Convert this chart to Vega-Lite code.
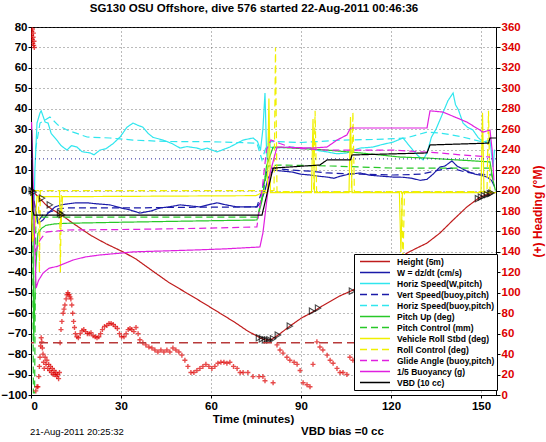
{
"$schema":"https://vega.github.io/schema/vega-lite/v6.json",
"width":465,"height":368,
"autosize":{"type":"none"},
"padding":{"left":31,"top":27,"right":50,"bottom":47},
"title":{"text":"SG130 OSU Offshore, dive 576 started 22-Aug-2011 00:46:36","fontSize":11.5,"fontWeight":"bold","font":"Liberation Sans","anchor":"middle","frame":"group","offset":7,"dx":-9.5,"color":"#000"},
"config":{
 "font":"Liberation Sans",
 "view":{"stroke":"#000","strokeWidth":1},
 "axis":{"labelFont":"Liberation Sans","labelFontWeight":"bold","labelFontSize":11.5,"labelColor":"#000","labelOverlap":false,"domainColor":"#000","tickColor":"#000","gridColor":"#555","gridDash":[1,3],"gridOpacity":0.8,"titleFont":"Liberation Sans","titleFontWeight":"bold","titleFontSize":11.5,"titleColor":"#000"}
},
"datasets":{
"series":[
{"s":"Height (5m)","t":0,"v":0},{"s":"Height (5m)","t":1,"v":-1},{"s":"Height (5m)","t":3,"v":-4},{"s":"Height (5m)","t":5,"v":-7},{"s":"Height (5m)","t":7,"v":-9.2},{"s":"Height (5m)","t":9,"v":-11},{"s":"Height (5m)","t":10.3,"v":-12},{"s":"Height (5m)","t":13,"v":-15},{"s":"Height (5m)","t":16,"v":-18},{"s":"Height (5m)","t":20,"v":-22},{"s":"Height (5m)","t":25,"v":-26},{"s":"Height (5m)","t":30.7,"v":-30},{"s":"Height (5m)","t":35,"v":-33.5},{"s":"Height (5m)","t":40.7,"v":-39.5},{"s":"Height (5m)","t":46,"v":-45},{"s":"Height (5m)","t":52,"v":-50.2},{"s":"Height (5m)","t":57,"v":-54.6},{"s":"Height (5m)","t":63,"v":-60},{"s":"Height (5m)","t":68,"v":-64.5},{"s":"Height (5m)","t":72,"v":-68.5},{"s":"Height (5m)","t":76.3,"v":-72},{"s":"Height (5m)","t":78,"v":-73},{"s":"Height (5m)","t":80,"v":-73},{"s":"Height (5m)","t":81,"v":-72},{"s":"Height (5m)","t":83,"v":-70},{"s":"Height (5m)","t":86.3,"v":-66.3},{"s":"Height (5m)","t":90,"v":-62.5},{"s":"Height (5m)","t":94,"v":-59.3},{"s":"Height (5m)","t":97,"v":-56.5},{"s":"Height (5m)","t":100,"v":-54},{"s":"Height (5m)","t":103,"v":-51.5},{"s":"Height (5m)","t":107.3,"v":-48.7},{"s":"Height (5m)","t":112,"v":-44.5},{"s":"Height (5m)","t":117,"v":-40},{"s":"Height (5m)","t":121,"v":-35.5},{"s":"Height (5m)","t":125.3,"v":-30.6},{"s":"Height (5m)","t":128.5,"v":-28.2},{"s":"Height (5m)","t":132,"v":-25.7},{"s":"Height (5m)","t":136.3,"v":-20.8},{"s":"Height (5m)","t":140.7,"v":-14.4},{"s":"Height (5m)","t":145.3,"v":-8},{"s":"Height (5m)","t":149.7,"v":-3.2},{"s":"Height (5m)","t":152,"v":-2},{"s":"Height (5m)","t":154,"v":-1},

{"s":"W = dz/dt (cm/s)","t":0.5,"v":-2},{"s":"W = dz/dt (cm/s)","t":1.5,"v":-10},{"s":"W = dz/dt (cm/s)","t":2.3,"v":-16},{"s":"W = dz/dt (cm/s)","t":4,"v":-14.4},{"s":"W = dz/dt (cm/s)","t":5.7,"v":-11},{"s":"W = dz/dt (cm/s)","t":8,"v":-8},{"s":"W = dz/dt (cm/s)","t":10,"v":-7},{"s":"W = dz/dt (cm/s)","t":12.3,"v":-6.5},{"s":"W = dz/dt (cm/s)","t":15,"v":-6},{"s":"W = dz/dt (cm/s)","t":18.7,"v":-6},{"s":"W = dz/dt (cm/s)","t":22,"v":-6.5},{"s":"W = dz/dt (cm/s)","t":26.3,"v":-7},{"s":"W = dz/dt (cm/s)","t":30,"v":-8.5},{"s":"W = dz/dt (cm/s)","t":33,"v":-9.5},{"s":"W = dz/dt (cm/s)","t":36.3,"v":-11},{"s":"W = dz/dt (cm/s)","t":40,"v":-10},{"s":"W = dz/dt (cm/s)","t":43,"v":-8.5},{"s":"W = dz/dt (cm/s)","t":46,"v":-8},{"s":"W = dz/dt (cm/s)","t":49.7,"v":-7},{"s":"W = dz/dt (cm/s)","t":53,"v":-7.5},{"s":"W = dz/dt (cm/s)","t":56.3,"v":-8},{"s":"W = dz/dt (cm/s)","t":59,"v":-7},{"s":"W = dz/dt (cm/s)","t":62,"v":-6},{"s":"W = dz/dt (cm/s)","t":65,"v":-7},{"s":"W = dz/dt (cm/s)","t":68.7,"v":-8},{"s":"W = dz/dt (cm/s)","t":72,"v":-8},{"s":"W = dz/dt (cm/s)","t":75.3,"v":-8},{"s":"W = dz/dt (cm/s)","t":76.5,"v":-6},{"s":"W = dz/dt (cm/s)","t":78,"v":0},{"s":"W = dz/dt (cm/s)","t":79,"v":6},{"s":"W = dz/dt (cm/s)","t":80.7,"v":10},{"s":"W = dz/dt (cm/s)","t":84,"v":9.5},{"s":"W = dz/dt (cm/s)","t":87.3,"v":9},{"s":"W = dz/dt (cm/s)","t":90,"v":8},{"s":"W = dz/dt (cm/s)","t":93,"v":7.6},{"s":"W = dz/dt (cm/s)","t":96,"v":7},{"s":"W = dz/dt (cm/s)","t":98.7,"v":6.6},{"s":"W = dz/dt (cm/s)","t":101,"v":6},{"s":"W = dz/dt (cm/s)","t":103,"v":7},{"s":"W = dz/dt (cm/s)","t":106,"v":8},{"s":"W = dz/dt (cm/s)","t":109.7,"v":8.6},{"s":"W = dz/dt (cm/s)","t":113,"v":7.5},{"s":"W = dz/dt (cm/s)","t":117,"v":7},{"s":"W = dz/dt (cm/s)","t":120.7,"v":6.6},{"s":"W = dz/dt (cm/s)","t":124,"v":6.5},{"s":"W = dz/dt (cm/s)","t":127,"v":6},{"s":"W = dz/dt (cm/s)","t":129.7,"v":5},{"s":"W = dz/dt (cm/s)","t":132,"v":5.5},{"s":"W = dz/dt (cm/s)","t":134,"v":8},{"s":"W = dz/dt (cm/s)","t":136.3,"v":11.5},{"s":"W = dz/dt (cm/s)","t":138,"v":12},{"s":"W = dz/dt (cm/s)","t":140.3,"v":14.5},{"s":"W = dz/dt (cm/s)","t":142,"v":12},{"s":"W = dz/dt (cm/s)","t":145.3,"v":9.5},{"s":"W = dz/dt (cm/s)","t":148,"v":8},{"s":"W = dz/dt (cm/s)","t":150,"v":7.5},{"s":"W = dz/dt (cm/s)","t":152,"v":6.6},{"s":"W = dz/dt (cm/s)","t":153.5,"v":5},{"s":"W = dz/dt (cm/s)","t":154.5,"v":2},

{"s":"Horiz Speed(W,pitch)","t":0.5,"v":0},{"s":"Horiz Speed(W,pitch)","t":1,"v":-12},{"s":"Horiz Speed(W,pitch)","t":1.3,"v":10},{"s":"Horiz Speed(W,pitch)","t":2,"v":33},{"s":"Horiz Speed(W,pitch)","t":3,"v":38},{"s":"Horiz Speed(W,pitch)","t":3.4,"v":39},{"s":"Horiz Speed(W,pitch)","t":4.7,"v":33.5},{"s":"Horiz Speed(W,pitch)","t":5.7,"v":33},{"s":"Horiz Speed(W,pitch)","t":6.7,"v":28},{"s":"Horiz Speed(W,pitch)","t":8.6,"v":24.7},{"s":"Horiz Speed(W,pitch)","t":10,"v":22},{"s":"Horiz Speed(W,pitch)","t":12,"v":19.8},{"s":"Horiz Speed(W,pitch)","t":13.5,"v":22},{"s":"Horiz Speed(W,pitch)","t":15.3,"v":21.3},{"s":"Horiz Speed(W,pitch)","t":17,"v":19},{"s":"Horiz Speed(W,pitch)","t":19.7,"v":18.4},{"s":"Horiz Speed(W,pitch)","t":21,"v":17.5},{"s":"Horiz Speed(W,pitch)","t":23,"v":19.8},{"s":"Horiz Speed(W,pitch)","t":25,"v":20.5},{"s":"Horiz Speed(W,pitch)","t":27.4,"v":23},{"s":"Horiz Speed(W,pitch)","t":29.7,"v":26.2},{"s":"Horiz Speed(W,pitch)","t":32,"v":31},{"s":"Horiz Speed(W,pitch)","t":34,"v":33},{"s":"Horiz Speed(W,pitch)","t":35.5,"v":32},{"s":"Horiz Speed(W,pitch)","t":37.3,"v":31},{"s":"Horiz Speed(W,pitch)","t":39,"v":28},{"s":"Horiz Speed(W,pitch)","t":40.7,"v":26},{"s":"Horiz Speed(W,pitch)","t":44,"v":24.7},{"s":"Horiz Speed(W,pitch)","t":47,"v":23},{"s":"Horiz Speed(W,pitch)","t":49.7,"v":20.8},{"s":"Horiz Speed(W,pitch)","t":52,"v":21.5},{"s":"Horiz Speed(W,pitch)","t":55.3,"v":20.8},{"s":"Horiz Speed(W,pitch)","t":57,"v":20},{"s":"Horiz Speed(W,pitch)","t":58.7,"v":20.8},{"s":"Horiz Speed(W,pitch)","t":60,"v":20},{"s":"Horiz Speed(W,pitch)","t":62,"v":18.9},{"s":"Horiz Speed(W,pitch)","t":64,"v":20},{"s":"Horiz Speed(W,pitch)","t":66.3,"v":21.3},{"s":"Horiz Speed(W,pitch)","t":68.5,"v":23},{"s":"Horiz Speed(W,pitch)","t":70.7,"v":24.7},{"s":"Horiz Speed(W,pitch)","t":74,"v":25.7},{"s":"Horiz Speed(W,pitch)","t":75.5,"v":24},{"s":"Horiz Speed(W,pitch)","t":76.5,"v":19.8},{"s":"Horiz Speed(W,pitch)","t":77.3,"v":30},{"s":"Horiz Speed(W,pitch)","t":78,"v":47.7},{"s":"Horiz Speed(W,pitch)","t":78.5,"v":20},{"s":"Horiz Speed(W,pitch)","t":78.8,"v":13.5},{"s":"Horiz Speed(W,pitch)","t":79.3,"v":30},{"s":"Horiz Speed(W,pitch)","t":79.7,"v":21.3},{"s":"Horiz Speed(W,pitch)","t":81,"v":20.8},{"s":"Horiz Speed(W,pitch)","t":84,"v":21},{"s":"Horiz Speed(W,pitch)","t":87.3,"v":21.3},{"s":"Horiz Speed(W,pitch)","t":90,"v":20.5},{"s":"Horiz Speed(W,pitch)","t":93,"v":20.8},{"s":"Horiz Speed(W,pitch)","t":96,"v":19.5},{"s":"Horiz Speed(W,pitch)","t":98.7,"v":18.9},{"s":"Horiz Speed(W,pitch)","t":102,"v":18},{"s":"Horiz Speed(W,pitch)","t":105.3,"v":18.4},{"s":"Horiz Speed(W,pitch)","t":107,"v":19.5},{"s":"Horiz Speed(W,pitch)","t":109.7,"v":20.8},{"s":"Horiz Speed(W,pitch)","t":112,"v":21},{"s":"Horiz Speed(W,pitch)","t":114,"v":21.3},{"s":"Horiz Speed(W,pitch)","t":117,"v":22.5},{"s":"Horiz Speed(W,pitch)","t":120.7,"v":23.7},{"s":"Horiz Speed(W,pitch)","t":124,"v":25.7},{"s":"Horiz Speed(W,pitch)","t":125.5,"v":23},{"s":"Horiz Speed(W,pitch)","t":127.3,"v":19.8},{"s":"Horiz Speed(W,pitch)","t":129,"v":17},{"s":"Horiz Speed(W,pitch)","t":130.7,"v":15},{"s":"Horiz Speed(W,pitch)","t":132,"v":18.4},{"s":"Horiz Speed(W,pitch)","t":133.5,"v":26.2},{"s":"Horiz Speed(W,pitch)","t":135,"v":30},{"s":"Horiz Speed(W,pitch)","t":137.3,"v":38},{"s":"Horiz Speed(W,pitch)","t":139,"v":44},{"s":"Horiz Speed(W,pitch)","t":140.7,"v":47.7},{"s":"Horiz Speed(W,pitch)","t":141.5,"v":42},{"s":"Horiz Speed(W,pitch)","t":142.5,"v":39.4},{"s":"Horiz Speed(W,pitch)","t":144,"v":33},{"s":"Horiz Speed(W,pitch)","t":145.5,"v":31},{"s":"Horiz Speed(W,pitch)","t":147.3,"v":29.6},{"s":"Horiz Speed(W,pitch)","t":149,"v":26},{"s":"Horiz Speed(W,pitch)","t":150.7,"v":23.7},{"s":"Horiz Speed(W,pitch)","t":153,"v":24.7},{"s":"Horiz Speed(W,pitch)","t":154,"v":11.5},{"s":"Horiz Speed(W,pitch)","t":154.5,"v":20},

{"s":"Vert Speed(buoy,pitch)","t":1,"v":-5},{"s":"Vert Speed(buoy,pitch)","t":2.3,"v":-15},{"s":"Vert Speed(buoy,pitch)","t":4,"v":-12},{"s":"Vert Speed(buoy,pitch)","t":6.3,"v":-10.5},{"s":"Vert Speed(buoy,pitch)","t":9,"v":-9},{"s":"Vert Speed(buoy,pitch)","t":12,"v":-8.5},{"s":"Vert Speed(buoy,pitch)","t":34,"v":-8.5},{"s":"Vert Speed(buoy,pitch)","t":50,"v":-8.2},{"s":"Vert Speed(buoy,pitch)","t":75.3,"v":-8},{"s":"Vert Speed(buoy,pitch)","t":77,"v":0},{"s":"Vert Speed(buoy,pitch)","t":78.5,"v":9},{"s":"Vert Speed(buoy,pitch)","t":80,"v":11},{"s":"Vert Speed(buoy,pitch)","t":87,"v":10},{"s":"Vert Speed(buoy,pitch)","t":93,"v":9.5},{"s":"Vert Speed(buoy,pitch)","t":98.7,"v":8.6},{"s":"Vert Speed(buoy,pitch)","t":110,"v":8},{"s":"Vert Speed(buoy,pitch)","t":120.7,"v":7.6},{"s":"Vert Speed(buoy,pitch)","t":130,"v":8},{"s":"Vert Speed(buoy,pitch)","t":136,"v":10},{"s":"Vert Speed(buoy,pitch)","t":140,"v":11},{"s":"Vert Speed(buoy,pitch)","t":145,"v":9},{"s":"Vert Speed(buoy,pitch)","t":150,"v":8},{"s":"Vert Speed(buoy,pitch)","t":153.5,"v":7.6},

{"s":"Horiz Speed(buoy,pitch)","t":1.5,"v":20},{"s":"Horiz Speed(buoy,pitch)","t":3,"v":33},{"s":"Horiz Speed(buoy,pitch)","t":6.3,"v":36},{"s":"Horiz Speed(buoy,pitch)","t":9,"v":32},{"s":"Horiz Speed(buoy,pitch)","t":12,"v":29.6},{"s":"Horiz Speed(buoy,pitch)","t":18.7,"v":26.2},{"s":"Horiz Speed(buoy,pitch)","t":26.3,"v":25.7},{"s":"Horiz Speed(buoy,pitch)","t":34,"v":24.7},{"s":"Horiz Speed(buoy,pitch)","t":45,"v":24},{"s":"Horiz Speed(buoy,pitch)","t":60,"v":23.9},{"s":"Horiz Speed(buoy,pitch)","t":75.3,"v":23.2},{"s":"Horiz Speed(buoy,pitch)","t":77,"v":15},{"s":"Horiz Speed(buoy,pitch)","t":78.5,"v":22},{"s":"Horiz Speed(buoy,pitch)","t":80,"v":24},{"s":"Horiz Speed(buoy,pitch)","t":90,"v":23.5},{"s":"Horiz Speed(buoy,pitch)","t":104,"v":24.7},{"s":"Horiz Speed(buoy,pitch)","t":115,"v":25},{"s":"Horiz Speed(buoy,pitch)","t":125,"v":25.7},{"s":"Horiz Speed(buoy,pitch)","t":132,"v":28.6},{"s":"Horiz Speed(buoy,pitch)","t":137,"v":28},{"s":"Horiz Speed(buoy,pitch)","t":143,"v":26.5},{"s":"Horiz Speed(buoy,pitch)","t":150,"v":24},{"s":"Horiz Speed(buoy,pitch)","t":153.5,"v":23},

{"s":"Pitch Up (deg)","t":0.6,"v":0},{"s":"Pitch Up (deg)","t":0.9,"v":-74},{"s":"Pitch Up (deg)","t":1.5,"v":-40},{"s":"Pitch Up (deg)","t":2.3,"v":-21},{"s":"Pitch Up (deg)","t":3.5,"v":-18.5},{"s":"Pitch Up (deg)","t":5,"v":-17},{"s":"Pitch Up (deg)","t":8,"v":-16.3},{"s":"Pitch Up (deg)","t":12,"v":-16},{"s":"Pitch Up (deg)","t":30,"v":-15.5},{"s":"Pitch Up (deg)","t":50,"v":-15},{"s":"Pitch Up (deg)","t":75.3,"v":-14.4},{"s":"Pitch Up (deg)","t":77,"v":-5},{"s":"Pitch Up (deg)","t":78.5,"v":12},{"s":"Pitch Up (deg)","t":80.7,"v":21.3},{"s":"Pitch Up (deg)","t":87,"v":20.8},{"s":"Pitch Up (deg)","t":98.7,"v":19.8},{"s":"Pitch Up (deg)","t":109.7,"v":18.4},{"s":"Pitch Up (deg)","t":123,"v":16.4},{"s":"Pitch Up (deg)","t":132,"v":15.9},{"s":"Pitch Up (deg)","t":143,"v":14.9},{"s":"Pitch Up (deg)","t":153,"v":14},{"s":"Pitch Up (deg)","t":154,"v":5},{"s":"Pitch Up (deg)","t":154.8,"v":0},

{"s":"Pitch Control (mm)","t":0.5,"v":0},{"s":"Pitch Control (mm)","t":0.8,"v":-99},{"s":"Pitch Control (mm)","t":1.2,"v":-99},{"s":"Pitch Control (mm)","t":1.6,"v":-13},{"s":"Pitch Control (mm)","t":75.5,"v":-13},{"s":"Pitch Control (mm)","t":77.5,"v":0},{"s":"Pitch Control (mm)","t":79,"v":12},{"s":"Pitch Control (mm)","t":83,"v":12.5},{"s":"Pitch Control (mm)","t":100,"v":12},{"s":"Pitch Control (mm)","t":120.7,"v":11},{"s":"Pitch Control (mm)","t":153,"v":11},{"s":"Pitch Control (mm)","t":154,"v":5},

{"s":"Vehicle Roll Stbd (deg)","t":0,"v":0},{"s":"Vehicle Roll Stbd (deg)","t":0.5,"v":-25},{"s":"Vehicle Roll Stbd (deg)","t":1.2,"v":-20},{"s":"Vehicle Roll Stbd (deg)","t":2,"v":-3},{"s":"Vehicle Roll Stbd (deg)","t":9.5,"v":-3},{"s":"Vehicle Roll Stbd (deg)","t":10,"v":-18},{"s":"Vehicle Roll Stbd (deg)","t":10.5,"v":-3},{"s":"Vehicle Roll Stbd (deg)","t":75,"v":-2.5},{"s":"Vehicle Roll Stbd (deg)","t":77,"v":-1},{"s":"Vehicle Roll Stbd (deg)","t":78.8,"v":-1},{"s":"Vehicle Roll Stbd (deg)","t":79.3,"v":45},{"s":"Vehicle Roll Stbd (deg)","t":79.8,"v":-1},{"s":"Vehicle Roll Stbd (deg)","t":93.5,"v":-1},{"s":"Vehicle Roll Stbd (deg)","t":94,"v":35},{"s":"Vehicle Roll Stbd (deg)","t":94.5,"v":-1},{"s":"Vehicle Roll Stbd (deg)","t":106,"v":-1},{"s":"Vehicle Roll Stbd (deg)","t":106.5,"v":36},{"s":"Vehicle Roll Stbd (deg)","t":107,"v":-1},{"s":"Vehicle Roll Stbd (deg)","t":122.8,"v":-1},{"s":"Vehicle Roll Stbd (deg)","t":123.3,"v":-30},{"s":"Vehicle Roll Stbd (deg)","t":123.8,"v":-1},{"s":"Vehicle Roll Stbd (deg)","t":150,"v":-1},{"s":"Vehicle Roll Stbd (deg)","t":150.5,"v":38},{"s":"Vehicle Roll Stbd (deg)","t":151,"v":-1},{"s":"Vehicle Roll Stbd (deg)","t":155,"v":-1},

{"s":"Roll Control (deg)","t":0.5,"v":0},{"s":"Roll Control (deg)","t":2.5,"v":0},{"s":"Roll Control (deg)","t":2.8,"v":-40},{"s":"Roll Control (deg)","t":3.1,"v":0},{"s":"Roll Control (deg)","t":9.5,"v":0},{"s":"Roll Control (deg)","t":9.8,"v":-40},{"s":"Roll Control (deg)","t":10.1,"v":0},{"s":"Roll Control (deg)","t":81,"v":0},{"s":"Roll Control (deg)","t":81.5,"v":70},{"s":"Roll Control (deg)","t":82,"v":-0.5},{"s":"Roll Control (deg)","t":94.2,"v":-0.5},{"s":"Roll Control (deg)","t":94.7,"v":39},{"s":"Roll Control (deg)","t":95.2,"v":-0.5},{"s":"Roll Control (deg)","t":106.8,"v":-0.5},{"s":"Roll Control (deg)","t":107.3,"v":38.5},{"s":"Roll Control (deg)","t":107.8,"v":-0.5},{"s":"Roll Control (deg)","t":123.5,"v":-0.5},{"s":"Roll Control (deg)","t":124,"v":-35},{"s":"Roll Control (deg)","t":124.5,"v":-0.5},{"s":"Roll Control (deg)","t":152,"v":-0.5},{"s":"Roll Control (deg)","t":152.5,"v":39},{"s":"Roll Control (deg)","t":153,"v":-0.5},{"s":"Roll Control (deg)","t":155,"v":-0.5},

{"s":"Glide Angle (buoy,pitch)","t":1.5,"v":-30},{"s":"Glide Angle (buoy,pitch)","t":3,"v":-24.2},{"s":"Glide Angle (buoy,pitch)","t":5,"v":-20.3},{"s":"Glide Angle (buoy,pitch)","t":12,"v":-19.3},{"s":"Glide Angle (buoy,pitch)","t":34,"v":-19},{"s":"Glide Angle (buoy,pitch)","t":55,"v":-18.5},{"s":"Glide Angle (buoy,pitch)","t":75.3,"v":-17.8},{"s":"Glide Angle (buoy,pitch)","t":77,"v":0},{"s":"Glide Angle (buoy,pitch)","t":78.5,"v":20},{"s":"Glide Angle (buoy,pitch)","t":80,"v":24.7},{"s":"Glide Angle (buoy,pitch)","t":83,"v":23},{"s":"Glide Angle (buoy,pitch)","t":87.3,"v":20.8},{"s":"Glide Angle (buoy,pitch)","t":98.7,"v":19.8},{"s":"Glide Angle (buoy,pitch)","t":120.7,"v":19.8},{"s":"Glide Angle (buoy,pitch)","t":136,"v":18.4},{"s":"Glide Angle (buoy,pitch)","t":143,"v":17.5},{"s":"Glide Angle (buoy,pitch)","t":153,"v":16.4},

{"s":"1/5 Buoyancy (g)","t":0.2,"v":33.5},{"s":"1/5 Buoyancy (g)","t":0.8,"v":0},{"s":"1/5 Buoyancy (g)","t":1.3,"v":-30},{"s":"1/5 Buoyancy (g)","t":1.7,"v":-47.7},{"s":"1/5 Buoyancy (g)","t":2.5,"v":-44},{"s":"1/5 Buoyancy (g)","t":4,"v":-40.4},{"s":"1/5 Buoyancy (g)","t":6,"v":-38},{"s":"1/5 Buoyancy (g)","t":9,"v":-37},{"s":"1/5 Buoyancy (g)","t":14,"v":-34},{"s":"1/5 Buoyancy (g)","t":18,"v":-32.5},{"s":"1/5 Buoyancy (g)","t":23,"v":-31.5},{"s":"1/5 Buoyancy (g)","t":30,"v":-30.6},{"s":"1/5 Buoyancy (g)","t":34,"v":-30},{"s":"1/5 Buoyancy (g)","t":45,"v":-29.5},{"s":"1/5 Buoyancy (g)","t":56,"v":-29},{"s":"1/5 Buoyancy (g)","t":65,"v":-28.5},{"s":"1/5 Buoyancy (g)","t":76.3,"v":-27.6},{"s":"1/5 Buoyancy (g)","t":77.3,"v":-20.8},{"s":"1/5 Buoyancy (g)","t":79.7,"v":8.6},{"s":"1/5 Buoyancy (g)","t":82,"v":21.3},{"s":"1/5 Buoyancy (g)","t":94,"v":20.8},{"s":"1/5 Buoyancy (g)","t":98.7,"v":21.3},{"s":"1/5 Buoyancy (g)","t":102,"v":24.7},{"s":"1/5 Buoyancy (g)","t":105.3,"v":27.2},{"s":"1/5 Buoyancy (g)","t":106.5,"v":30.6},{"s":"1/5 Buoyancy (g)","t":132,"v":30.6},{"s":"1/5 Buoyancy (g)","t":133,"v":39},{"s":"1/5 Buoyancy (g)","t":137.3,"v":38.4},{"s":"1/5 Buoyancy (g)","t":145.3,"v":33.5},{"s":"1/5 Buoyancy (g)","t":150.7,"v":28.6},{"s":"1/5 Buoyancy (g)","t":153,"v":29.6},{"s":"1/5 Buoyancy (g)","t":153.7,"v":20},{"s":"1/5 Buoyancy (g)","t":154.3,"v":5},

{"s":"VBD (10 cc)","t":0.2,"v":29.6},{"s":"VBD (10 cc)","t":0.6,"v":-10},{"s":"VBD (10 cc)","t":1,"v":-12},{"s":"VBD (10 cc)","t":77,"v":-12},{"s":"VBD (10 cc)","t":80.7,"v":11},{"s":"VBD (10 cc)","t":96.3,"v":12.5},{"s":"VBD (10 cc)","t":98.7,"v":15},{"s":"VBD (10 cc)","t":106.5,"v":15},{"s":"VBD (10 cc)","t":107,"v":17.4},{"s":"VBD (10 cc)","t":132,"v":18.4},{"s":"VBD (10 cc)","t":133,"v":22.3},{"s":"VBD (10 cc)","t":152.5,"v":23.2},{"s":"VBD (10 cc)","t":153,"v":25.7},{"s":"VBD (10 cc)","t":155,"v":25.7}
],
"marks":[
{"t":0.3,"v":0},{"t":0.8,"v":-0.8},{"t":3.7,"v":-3.7},{"t":6.3,"v":-7},{"t":9.7,"v":-11},{"t":10.3,"v":-11.8},{"t":76,"v":-72},{"t":77,"v":-72.5},{"t":78,"v":-73},{"t":78.7,"v":-73},{"t":79.5,"v":-73},{"t":80.7,"v":-72.5},{"t":82.3,"v":-70.7},{"t":86.3,"v":-66.3},{"t":93.7,"v":-59},{"t":95.7,"v":-57.5},{"t":107,"v":-49.2},{"t":149,"v":-4},{"t":150,"v":-3.2},{"t":151,"v":-2.5},{"t":152,"v":-2},{"t":153,"v":-1.5},{"t":153.5,"v":-1.2}
],
"heading":[
{"t":0.2,"h":352},{"t":0.3,"h":356},{"t":0.4,"h":348},{"t":0.5,"h":358},{"t":0.6,"h":344},{"t":0.7,"h":350},{"t":0.8,"h":354},{"t":0.9,"h":342},{"t":1.0,"h":346},{"t":1.1,"h":340},
{"t":1.6,"h":4},{"t":2.0,"h":8},{"t":2.3,"h":8},{"t":2.6,"h":18},{"t":2.8,"h":28},{"t":3.0,"h":37},{"t":3.2,"h":48},{"t":3.4,"h":56},{"t":3.6,"h":52},{"t":3.8,"h":46},{"t":4.0,"h":40},{"t":4.2,"h":32},{"t":4.4,"h":26},{"t":4.7,"h":37},{"t":5.0,"h":30},{"t":5.3,"h":34},{"t":5.6,"h":26},{"t":5.9,"h":30},{"t":6.2,"h":24},{"t":6.5,"h":28},{"t":6.8,"h":22},{"t":7.1,"h":26},{"t":7.4,"h":20},{"t":7.7,"h":24},{"t":8.0,"h":20},{"t":8.3,"h":22},{"t":8.6,"h":18},{"t":8.9,"h":20},{"t":9.2,"h":16},{"t":9.5,"h":22},{"t":9.7,"h":51},{"t":10.0,"h":64},{"t":10.3,"h":72},{"t":10.7,"h":80},{"t":11.0,"h":84},{"t":11.3,"h":88},{"t":11.7,"h":94},{"t":12.0,"h":98},{"t":12.3,"h":100},{"t":12.7,"h":98},{"t":13.0,"h":96},{"t":13.3,"h":94},{"t":13.6,"h":88},{"t":13.9,"h":80},{"t":14.2,"h":72},{"t":14.5,"h":66},{"t":14.8,"h":60},{"t":15.3,"h":57},{"t":15.8,"h":56},{"t":16.4,"h":60},{"t":17.0,"h":63},{"t":17.6,"h":64},{"t":18.2,"h":62},{"t":18.8,"h":60},{"t":19.4,"h":60},{"t":20.0,"h":61},{"t":20.7,"h":58},{"t":21.4,"h":57},{"t":22.0,"h":56},{"t":22.6,"h":57},{"t":23.2,"h":60},{"t":23.8,"h":64},{"t":24.5,"h":67},{"t":25.3,"h":68},{"t":26.0,"h":70},{"t":26.7,"h":70},{"t":27.4,"h":69},{"t":28.1,"h":67},{"t":28.8,"h":65},{"t":29.5,"h":60},{"t":30.2,"h":57},{"t":31.0,"h":57},{"t":31.7,"h":60},{"t":32.4,"h":64},{"t":33.0,"h":65},{"t":33.6,"h":64},{"t":34.3,"h":62},{"t":35.0,"h":66},{"t":35.7,"h":60},{"t":36.3,"h":54},{"t":37.3,"h":51},{"t":38.3,"h":49},{"t":39.3,"h":47},{"t":40.3,"h":46},{"t":41.3,"h":44},{"t":42.3,"h":42},{"t":43.3,"h":44},{"t":44.3,"h":42},{"t":45.3,"h":44},{"t":46.3,"h":42},{"t":47.3,"h":46},{"t":48.3,"h":44},{"t":49.3,"h":42},{"t":50.3,"h":39},{"t":51.3,"h":34},{"t":52.3,"h":28},{"t":53.3,"h":22},{"t":54.3,"h":22},{"t":55.3,"h":24},{"t":56.3,"h":26},{"t":57.3,"h":28},{"t":58.3,"h":30},{"t":59.3,"h":28},{"t":60.3,"h":26},{"t":61.3,"h":28},{"t":62.3,"h":31},{"t":63.3,"h":32},{"t":64.3,"h":32},{"t":65.3,"h":31},{"t":66.3,"h":32},{"t":67.5,"h":28},{"t":68.7,"h":26},{"t":69.7,"h":22},{"t":70.7,"h":22},{"t":72.3,"h":22},{"t":74.0,"h":18},{"t":76.0,"h":18},{"t":77.3,"h":18},{"t":78.0,"h":14},{"t":80.7,"h":12},
{"t":82.0,"h":49},{"t":83.0,"h":44},{"t":84.0,"h":41},{"t":85.3,"h":37},{"t":86.3,"h":34},{"t":87.7,"h":32},{"t":88.7,"h":30},{"t":89.7,"h":24},{"t":90.7,"h":12},{"t":92.0,"h":10},{"t":93.0,"h":8},{"t":94.0,"h":30},{"t":95.3,"h":52},{"t":96.3,"h":47},{"t":97.3,"h":44},{"t":98.7,"h":39},{"t":99.7,"h":34},{"t":100.7,"h":31},{"t":102.0,"h":26},{"t":103.0,"h":22},{"t":104.0,"h":22},{"t":105.3,"h":20},{"t":106.3,"h":37},
{"t":107.3,"h":34},{"t":108.5,"h":30},{"t":110,"h":26},{"t":111.5,"h":22},{"t":113,"h":18},{"t":114,"h":44},{"t":115.5,"h":40},{"t":117,"h":36},{"t":118.5,"h":30},{"t":120,"h":26},{"t":121.5,"h":22},{"t":123,"h":50},{"t":124.5,"h":46},{"t":126,"h":42},{"t":128,"h":38},{"t":130,"h":34},{"t":132,"h":30},{"t":134,"h":26},{"t":136,"h":22},{"t":138,"h":56},{"t":140,"h":52},{"t":142,"h":48},{"t":144,"h":44},{"t":146,"h":40},{"t":148,"h":36},{"t":150,"h":32},
{"t":154.6,"h":68},{"t":154.7,"h":78},{"t":154.8,"h":90},{"t":154.85,"h":100},{"t":154.9,"h":110}
]
},
"layer":[
{"layer":[
 {"data":{"name":"series"},
  "mark":{"type":"line","strokeWidth":1.2,"clip":true},
  "encoding":{
   "x":{"field":"t","type":"quantitative","scale":{"domain":[0,155],"nice":false,"zero":false},"axis":{"values":[0,30,60,90,120,150],"grid":true,"title":"Time (minutes)","tickSize":3,"labelPadding":2,"titlePadding":2,"titleX":222,"labelOverlap":false}},
   "y":{"field":"v","type":"quantitative","scale":{"domain":[-100,80],"nice":false,"zero":false},"axis":{"values":[-100,-90,-80,-70,-60,-50,-40,-30,-20,-10,0,10,20,30,40,50,60,70,80],"tickCount":19,"grid":true,"title":null,"tickSize":3,"labelPadding":1,"labelOverlap":false,"labelBound":false}},
   "color":{"field":"s","type":"nominal",
     "scale":{"domain":["Height (5m)","W = dz/dt (cm/s)","Horiz Speed(W,pitch)","Vert Speed(buoy,pitch)","Horiz Speed(buoy,pitch)","Pitch Up (deg)","Pitch Control (mm)","Vehicle Roll Stbd (deg)","Roll Control (deg)","Glide Angle (buoy,pitch)","1/5 Buoyancy (g)","VBD (10 cc)"],
       "range":["#bf1c1c","#1a1aa8","#30e6ee","#1a1aa8","#30e6ee","#28c828","#28c828","#f0f000","#f0f000","#e020e0","#e020e0","#000000"]},
     "legend":{"orient":"none","legendX":323,"legendY":227,"title":null,"fillColor":"#ffffff","strokeColor":"#000000","padding":2,"symbolType":"stroke","symbolSize":900,"symbolStrokeWidth":1.5,"clipHeight":11,"labelFont":"Liberation Sans","labelFontSize":8.5,"labelFontWeight":"bold","labelColor":"#000","labelOffset":6,"symbolOffset":3,"rowPadding":0,"labelLimit":200}},
   "strokeDash":{"field":"s","type":"nominal",
     "scale":{"domain":["Height (5m)","W = dz/dt (cm/s)","Horiz Speed(W,pitch)","Vert Speed(buoy,pitch)","Horiz Speed(buoy,pitch)","Pitch Up (deg)","Pitch Control (mm)","Vehicle Roll Stbd (deg)","Roll Control (deg)","Glide Angle (buoy,pitch)","1/5 Buoyancy (g)","VBD (10 cc)"],
       "range":[[1,0],[1,0],[1,0],[7,4],[7,4],[1,0],[7,4],[1,0],[7,4],[7,4],[1,0],[1,0]]},
     "legend":{"orient":"none","legendX":323,"legendY":227,"title":null}}
  }},
 {"data":{"name":"marks"},
  "mark":{"type":"point","shape":"triangle-right","filled":false,"stroke":"#000","strokeWidth":1.1,"size":40},
  "encoding":{"x":{"field":"t","type":"quantitative"},"y":{"field":"v","type":"quantitative"}}},
 {"data":{"values":[{}]},
  "mark":{"type":"rule","stroke":"#2a2a9a","strokeDash":[1,3],"strokeWidth":1},
  "encoding":{"y":{"datum":15.5}}},
 {"data":{"values":[{}]},
  "mark":{"type":"text","text":"21-Aug-2011 20:25:32","align":"left","baseline":"middle","fontSize":9.5,"font":"Liberation Sans","color":"#000"},
  "encoding":{"x":{"datum":-0.33},"y":{"datum":-118}}},
 {"data":{"values":[{}]},
  "mark":{"type":"text","text":"VBD bias =0 cc","align":"center","baseline":"middle","fontSize":11.5,"fontWeight":"bold","font":"Liberation Sans","color":"#000"},
  "encoding":{"x":{"datum":103.8},"y":{"datum":-118}}}
]},
{"layer":[
 {"data":{"name":"heading"},
  "mark":{"type":"point","shape":"M-1,0H1M0,-1V1","filled":false,"stroke":"#dd0000","strokeWidth":1.4,"size":25,"clip":true},
  "encoding":{
   "x":{"field":"t","type":"quantitative"},
   "y":{"field":"h","type":"quantitative","scale":{"domain":[0,360],"nice":false,"zero":false},
     "axis":{"orient":"right","values":[0,20,40,60,80,100,120,140,160,180,200,220,240,260,280,300,320,340,360],"tickCount":19,"labelOverlap":false,"labelBound":false,"grid":false,"labelColor":"#dd0000","tickSize":4,"labelPadding":1,"title":"(+) Heading (°M)","titleColor":"#dd0000","titleFontSize":12,"titleAngle":270,"titleX":41,"titleY":184,"titleAlign":"center","titleBaseline":"middle"}}}},
 {"data":{"values":[{}]},
  "mark":{"type":"rule","stroke":"#b83a3a","strokeDash":[9,5],"strokeWidth":1.5},
  "encoding":{"y":{"datum":51.2}}}
]}
],
"resolve":{"scale":{"y":"independent"}}
}
